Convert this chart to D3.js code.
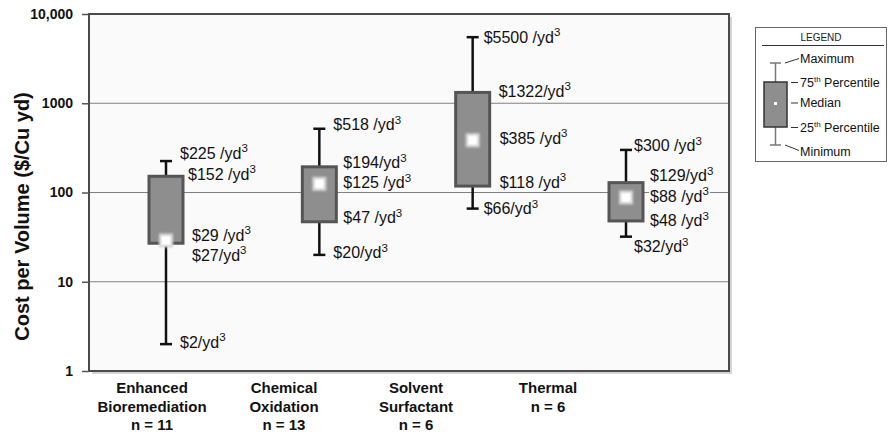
<!DOCTYPE html>
<html>
<head>
<meta charset="utf-8">
<script src="https://cdn.jsdelivr.net/npm/d3@7/dist/d3.min.js"></script>
<style>
  html, body { margin: 0; padding: 0; background: #ffffff; }
  svg { display: block; font-family: "Liberation Sans", Arial, Helvetica, sans-serif; }
</style>
</head>
<body>
<svg id="chart" width="890" height="438"></svg>
<script>
// Remediation technologies and sample counts
const categories = ["Enhanced Bioremediation", "Chemical Oxidation", "Solvent Surfactant", "Thermal"];
const labelLines = [["Enhanced", "Bioremediation", "n = 11"], ["Chemical", "Oxidation", "n = 13"], ["Solvent", "Surfactant", "n = 6"], ["Thermal", "n = 6"]];

// Five-number summaries, $ per cubic yard
const minimum = [2, 20, 66, 32];
const q1      = [27, 47, 118, 48];
const median  = [29, 125, 385, 88];
const q3      = [152, 194, 1322, 129];
const maximum = [225, 518, 5500, 300];

// Y axis ticks
const tickValues = [1, 10, 100, 1000, 10000];
const tickLabels = ["1", "10", "100", "1000", "10,000"];

// Annotation placement for each statistic: [dx from box centre, dy from value, space before unit]
const annotLayout = [
  { max: [14, -8, 1], q3: [22, -2, 1], med: [26, -5, 1], q1: [26, 12, 0], min: [14, -2, 0] },
  { max: [14, -4, 1], q3: [24, -4, 0], med: [24, -1, 1], q1: [24, -4, 1], min: [14, -2, 0] },
  { max: [11, 0, 1],  q3: [26, -1, 0], med: [27, -2, 1], q1: [27, -4, 1], min: [11, 0, 0] },
  { max: [8, -4, 1],  q3: [24, -7, 0], med: [24, -1, 1], q1: [24, 0, 1],  min: [8, 10, 0] }
];

const svg = d3.select("#chart");
const plot = { left: 89, right: 729, top: 14, bottom: 371 };
const plotBg = "#fafafa";

const y = d3.scaleLog().domain([1, 10000]).range([plot.bottom, plot.top]);
const x = d3.scalePoint().domain(categories).range([166, 626]);
const xLabel = d3.scalePoint().domain(categories).range([152, 548]);

// Plot frame with a soft drop shadow
svg.append("rect")
  .attr("x", plot.left + 3).attr("y", plot.top + 3)
  .attr("width", plot.right - plot.left).attr("height", plot.bottom - plot.top)
  .attr("fill", "#d4d4d4");
svg.append("rect")
  .attr("x", plot.left).attr("y", plot.top)
  .attr("width", plot.right - plot.left).attr("height", plot.bottom - plot.top)
  .attr("fill", plotBg);

// Horizontal gridlines at each decade
svg.append("g").selectAll("line")
  .data(tickValues.slice(1, -1))
  .join("line")
  .attr("x1", plot.left).attr("x2", plot.right)
  .attr("y1", d => y(d)).attr("y2", d => y(d))
  .attr("stroke", "#808080").attr("stroke-width", 1.2);

// Frame outline
svg.append("rect")
  .attr("x", plot.left).attr("y", plot.top)
  .attr("width", plot.right - plot.left).attr("height", plot.bottom - plot.top)
  .attr("fill", "none").attr("stroke", "#4a4a4a").attr("stroke-width", 2);

// Y axis
const yAxis = d3.axisLeft(y)
  .tickValues(tickValues)
  .tickFormat((d, i) => tickLabels[i])
  .tickSize(7)
  .tickPadding(9);
const gy = svg.append("g").attr("transform", `translate(${plot.left},0)`).call(yAxis);
gy.select(".domain").remove();
gy.selectAll(".tick line").attr("stroke", "#555").attr("stroke-width", 1.5);
gy.selectAll(".tick text")
  .attr("font-family", "Liberation Sans, Arial, sans-serif")
  .attr("font-size", 14).attr("font-weight", "bold").attr("fill", "#111");

svg.append("text")
  .attr("transform", `translate(29,${(plot.top + plot.bottom) / 2 + 24}) rotate(-90)`)
  .attr("text-anchor", "middle")
  .attr("font-size", 20).attr("font-weight", "bold").attr("fill", "#111")
  .text("Cost per Volume ($/Cu yd)");

// Category labels
const catG = svg.append("g");
categories.forEach((c, i) => {
  const t = catG.append("text")
    .attr("x", xLabel(c)).attr("y", 393)
    .attr("text-anchor", "middle")
    .attr("font-size", 15).attr("font-weight", "bold").attr("fill", "#111");
  labelLines[i].forEach((line, k) => {
    t.append("tspan").attr("x", xLabel(c)).attr("dy", k === 0 ? 0 : 18.5).text(line);
  });
});

// Glow for the median marker
const defs = svg.append("defs");
defs.append("filter").attr("id", "soft").attr("x", "-50%").attr("y", "-50%").attr("width", "200%").attr("height", "200%")
  .append("feGaussianBlur").attr("stdDeviation", 1.2);

const boxW = 34, capW = 12;
const boxes = svg.append("g");
categories.forEach((c, i) => {
  const cx = x(c);
  const g = boxes.append("g");
  // whiskers
  g.append("line").attr("x1", cx).attr("x2", cx).attr("y1", y(maximum[i])).attr("y2", y(q3[i]))
    .attr("stroke", "#111").attr("stroke-width", 2.5);
  g.append("line").attr("x1", cx).attr("x2", cx).attr("y1", y(q1[i])).attr("y2", y(minimum[i]))
    .attr("stroke", "#111").attr("stroke-width", 2.5);
  [maximum[i], minimum[i]].forEach(v => {
    g.append("line").attr("x1", cx - capW / 2).attr("x2", cx + capW / 2).attr("y1", y(v)).attr("y2", y(v))
      .attr("stroke", "#111").attr("stroke-width", 2.5);
  });
  // interquartile box
  g.append("rect")
    .attr("x", cx - boxW / 2).attr("y", y(q3[i]))
    .attr("width", boxW).attr("height", y(q1[i]) - y(q3[i]))
    .attr("fill", "#8e8e8e").attr("stroke", "#555").attr("stroke-width", 3);
  // median marker
  const my = y(median[i]);
  g.append("rect").attr("x", cx - 7).attr("y", my - 7).attr("width", 14).attr("height", 14)
    .attr("fill", "#d6d6d6").attr("filter", "url(#soft)");
  g.append("rect").attr("x", cx - 4.5).attr("y", my - 4.5).attr("width", 9).attr("height", 9)
    .attr("fill", "#ffffff").attr("filter", "url(#soft)");
  g.append("rect").attr("x", cx - 3.5).attr("y", my - 3.5).attr("width", 7).attr("height", 7)
    .attr("fill", "#ffffff");
});

// Value annotations: backgrounds drawn first so no label covers another
const annBg = svg.append("g");
const annG = svg.append("g");
categories.forEach((c, i) => {
  const stats = { max: maximum[i], q3: q3[i], med: median[i], q1: q1[i], min: minimum[i] };
  Object.keys(stats).forEach(k => {
    const [dx, dy, sp] = annotLayout[i][k];
    const v = stats[k];
    const tx = x(c) + dx, ty = y(v) + dy + 5.5;
    const t = annG.append("text")
      .attr("x", tx).attr("y", ty)
      .attr("font-size", 16).attr("fill", "#111");
    t.append("tspan").text(`$${v}${sp ? " " : ""}/yd`);
    t.append("tspan").attr("font-size", 11.5).attr("dy", -6.5).text("3");
    const b = t.node().getBBox();
    annBg.append("rect").attr("fill", plotBg)
      .attr("x", b.x - 1).attr("y", b.y + 5).attr("width", b.width + 2).attr("height", b.height - 8);
  });
});

// Legend
const lg = svg.append("g");
lg.append("rect").attr("x", 755.5).attr("y", 27.5).attr("width", 131).attr("height", 134)
  .attr("fill", "#ffffff").attr("stroke", "#666").attr("stroke-width", 1);
lg.append("text").attr("x", 821).attr("y", 41).attr("text-anchor", "middle")
  .attr("font-size", 10).attr("fill", "#222").text("LEGEND");
lg.append("line").attr("x1", 762).attr("x2", 884).attr("y1", 45.5).attr("y2", 45.5)
  .attr("stroke", "#333").attr("stroke-width", 1);

const lx = 775.5;
lg.append("line").attr("x1", lx).attr("x2", lx).attr("y1", 63).attr("y2", 145).attr("stroke", "#777").attr("stroke-width", 1.5);
[63, 145].forEach(v => lg.append("line").attr("x1", lx - 5.5).attr("x2", lx + 5.5).attr("y1", v).attr("y2", v)
  .attr("stroke", "#777").attr("stroke-width", 1.5));
lg.append("rect").attr("x", 764).attr("y", 82).attr("width", 23).attr("height", 45)
  .attr("fill", "#8e8e8e").attr("stroke", "#333").attr("stroke-width", 1.5);
lg.append("rect").attr("x", lx - 1.5).attr("y", 102).attr("width", 3).attr("height", 3).attr("fill", "#fff");

lg.append("line").attr("x1", 785).attr("y1", 63).attr("x2", 799).attr("y2", 58.5).attr("stroke", "#333").attr("stroke-width", 1);
lg.append("line").attr("x1", 785).attr("y1", 145).attr("x2", 799).attr("y2", 150.5).attr("stroke", "#333").attr("stroke-width", 1);
[82.5, 103, 127.5].forEach(v => lg.append("line").attr("x1", 791).attr("x2", 798).attr("y1", v).attr("y2", v)
  .attr("stroke", "#333").attr("stroke-width", 1));

const legendItems = [
  { y: 62.5, text: "Maximum" },
  { y: 86.5, text: "75", sup: "th", rest: " Percentile" },
  { y: 107, text: "Median" },
  { y: 131.5, text: "25", sup: "th", rest: " Percentile" },
  { y: 155.5, text: "Minimum" }
];
legendItems.forEach(it => {
  const t = lg.append("text").attr("x", 800).attr("y", it.y).attr("font-size", 12.5).attr("fill", "#111");
  t.append("tspan").text(it.text);
  if (it.sup) {
    t.append("tspan").attr("font-size", 8).attr("dy", -5).text(it.sup);
    t.append("tspan").attr("dy", 5).text(it.rest);
  }
});
</script>
</body>
</html>
